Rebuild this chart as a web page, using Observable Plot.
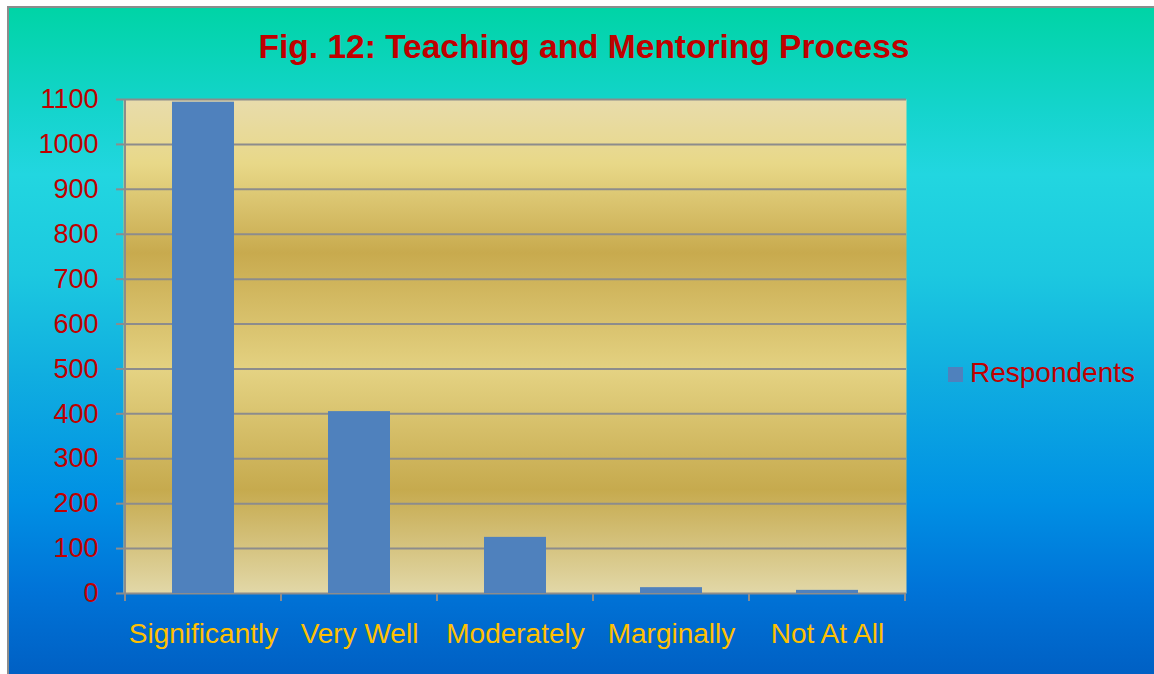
<!DOCTYPE html>
<html>
<head>
<meta charset="utf-8">
<script src="https://cdn.jsdelivr.net/npm/d3@7"></script>
<script src="https://cdn.jsdelivr.net/npm/@observablehq/plot@0.6"></script>
<style>
  html, body { margin: 0; padding: 0; background: #ffffff; }
  body { width: 1154px; height: 674px; position: relative; overflow: hidden; font-family: "Liberation Sans", Arial, sans-serif; }
  #bg {
    position: absolute; left: 7px; top: 6px; width: 1147px; height: 668px; box-sizing: border-box;
    border-top: 2px solid #8c8c8c; border-left: 2px solid #8c8c8c;
    background: linear-gradient(to bottom, #00d4a6 0%, #14d4cc 15%, #22d6e0 25%, #1cc8e0 40%, #10aee0 55%, #0090e4 74%, #0074d8 87%, #0060c4 100%);
  }
  #title {
    position: absolute; left: 584px; top: 30px; transform: translateX(-50%);
    white-space: nowrap; font-size: 33.5px; line-height: 33.5px; font-weight: bold; color: #c00000;
  }
  #legend { position: absolute; left: 948px; top: 359px; height: 28px; }
  #legend .sw { position: absolute; left: 0; top: 8px; width: 15px; height: 15px; background: #4f81bd; }
  #legend .lb { position: absolute; left: 22px; top: 0; font-size: 28px; line-height: 28px; color: #c00000; white-space: nowrap; }
  #chart { position: absolute; left: 0; top: 0; }
</style>
</head>
<body>
<div id="bg"></div>
<div id="chart"></div>
<div id="title">Fig. 12: Teaching and Mentoring Process</div>
<div id="legend"><div class="sw"></div><div class="lb">Respondents</div></div>
<script>
const categories = ["Significantly", "Very Well", "Moderately", "Marginally", "Not At All"];
const respondents = [1094, 405, 125, 13, 7];
const yTicks = [0, 100, 200, 300, 400, 500, 600, 700, 800, 900, 1000, 1100];
const seriesName = "Respondents";

const data = categories.map((c, i) => ({category: c, value: respondents[i], series: seriesName}));

const gray = "#8c8c8c";

function defsMark() {
  const svgNS = "http://www.w3.org/2000/svg";
  const defs = document.createElementNS(svgNS, "defs");
  const grad = document.createElementNS(svgNS, "linearGradient");
  grad.setAttribute("id", "plotGrad");
  grad.setAttribute("x1", "0"); grad.setAttribute("y1", "0");
  grad.setAttribute("x2", "0"); grad.setAttribute("y2", "1");
  const stops = [[0, "#e8dcac"], [0.13, "#e8d888"], [0.31, "#c8aa4e"], [0.55, "#e4d282"], [0.79, "#c6aa4e"], [1, "#e2d8a8"]];
  for (const [o, c] of stops) {
    const s = document.createElementNS(svgNS, "stop");
    s.setAttribute("offset", o);
    s.setAttribute("stop-color", c);
    grad.appendChild(s);
  }
  defs.appendChild(grad);
  return defs;
}

function axisLines(index, scales, values, dimensions) {
  const x = scales.x, y = scales.y;
  const starts = categories.map(c => x(c));
  const step = (starts[starts.length - 1] - starts[0]) / (starts.length - 1);
  const bounds = [...starts, starts[starts.length - 1] + step];
  const y0 = y(0), yTop = y(yTicks[yTicks.length - 1]);
  const g = d3.create("svg:g").attr("stroke", gray).attr("stroke-width", 2);
  g.selectAll("line.b").data(bounds).join("line")
    .attr("x1", d => d).attr("x2", d => d)
    .attr("y1", y0).attr("y2", y0 + 8);
  g.append("line").attr("x1", bounds[0]).attr("x2", bounds[0]).attr("y1", yTop).attr("y2", y0);
  return g.node();
}

const chart = Plot.plot({
  width: 1154,
  height: 674,
  marginLeft: 123,
  marginRight: 248,
  marginTop: 99,
  marginBottom: 81,
  style: {background: "transparent", fontFamily: "'Liberation Sans', Arial, sans-serif"},
  x: {type: "band", domain: categories, padding: 0, label: null},
  y: {domain: [0, 1100], label: null},
  marks: [
    defsMark,
    Plot.frame({fill: "url(#plotGrad)", stroke: null}),
    Plot.gridY(yTicks, {stroke: gray, strokeOpacity: 1, strokeWidth: 2}),
    Plot.barY(data, {x: "category", y: "value", fill: "#4f81bd", insetLeft: 47, insetRight: 47}),
    axisLines,
    Plot.axisY(yTicks, {tickSize: 7, tickPadding: 18, stroke: gray, strokeWidth: 2, fill: "#c00000", fontSize: 27, tickFormat: d3.format("d"), label: null}),
    Plot.axisX({tickSize: 0, tickPadding: 30, fill: "#ffc000", fontSize: 28, label: null})
  ]
});
document.getElementById("chart").appendChild(chart);
</script>
</body>
</html>
